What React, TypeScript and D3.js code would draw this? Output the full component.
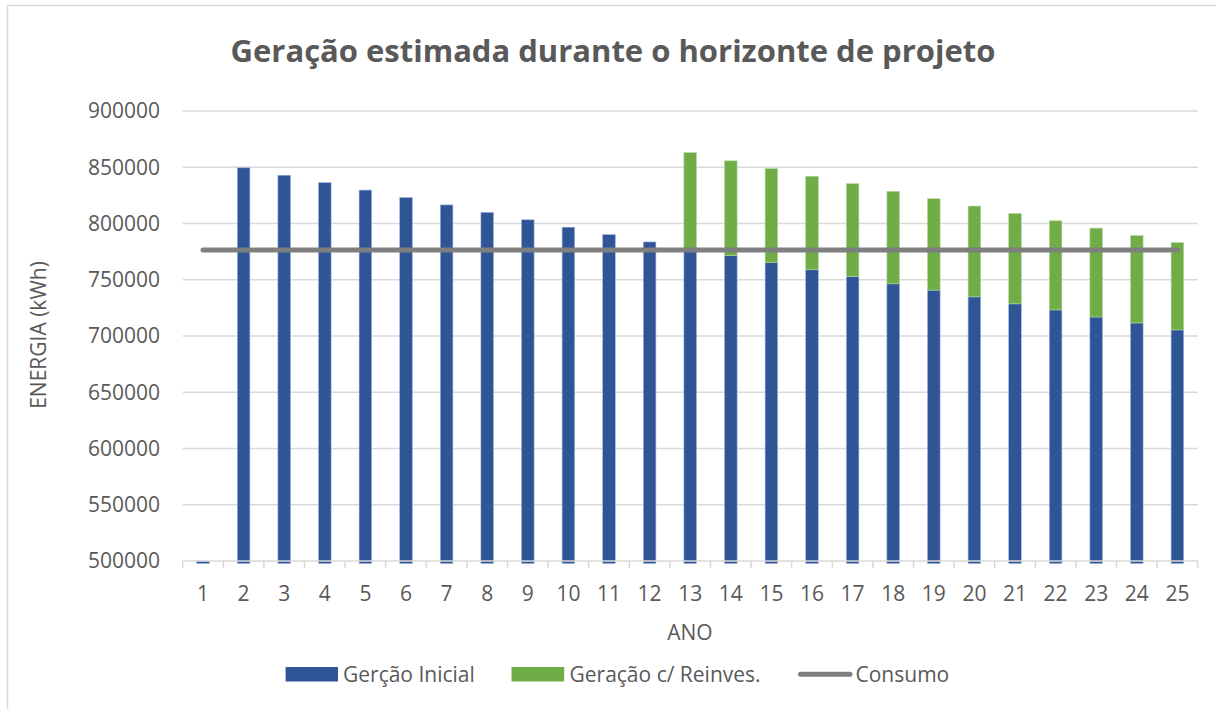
import * as d3 from "d3";

const ANOS = ["1", "2", "3", "4", "5", "6", "7", "8", "9", "10", "11", "12", "13", "14", "15", "16", "17", "18", "19", "20", "21", "22", "23", "24", "25"];

// geração inicial (kWh)
const GERACAO_INICIAL = [0, 849500, 842900, 836300, 829700, 823100, 816500, 809900, 803300, 796700, 790100, 783600, 777300, 771500, 765200, 758900, 752700, 746400, 740800, 734800, 728600, 723200, 716900, 711600, 705400];

// acréscimo com reinvestimento (empilhado sobre a geração inicial)
const GERACAO_REINV = [0, 0, 0, 0, 0, 0, 0, 0, 0, 0, 0, 0, 85700, 84200, 83600, 83100, 82700, 82200, 81200, 80700, 80300, 79200, 79000, 77700, 77600];

const CONSUMO = [776500, 776500, 776500, 776500, 776500, 776500, 776500, 776500, 776500, 776500, 776500, 776500, 776500, 776500, 776500, 776500, 776500, 776500, 776500, 776500, 776500, 776500, 776500, 776500, 776500];

const Y_TICKS = [500000, 550000, 600000, 650000, 700000, 750000, 800000, 850000, 900000];

const W = 1216;
const H = 709;
const FONT = "'Open Sans', 'Noto Sans', sans-serif";
const FS = 21;
const TXT = "#595959";
const GRID = "#d9d9d9";
const AZUL = "#2f5597";
const VERDE = "#70ad47";
const CINZA = "#7f7f7f";

export default function App() {
  const x = d3.scaleBand<string>().domain(ANOS).range([182.7, 1197.7]).paddingInner(0.69).paddingOuter(0.345);
  const y = d3.scaleLinear().domain([500000, 900000]).range([561, 111]);
  const step = x.step();
  const yc = (v: number) => y(Math.max(v, 500000));
  const y0 = y(500000);

  const line = d3
    .line<number>()
    .x((_, i) => x(ANOS[i])! + x.bandwidth() / 2)
    .y((d) => y(d));

  return (
    <div style={{ position: "absolute", left: 0, top: 0 }}>
      <svg width={W} height={H} style={{ display: "block", fontFamily: FONT }}>
        <rect x={0} y={0} width={W} height={H} fill="#fff" />
        {/* borda do gráfico */}
        <path d={`M7.5,${H} V5.5 H${W}`} fill="none" stroke={GRID} strokeWidth={1.5} />

        <text x={613} y={62} textAnchor="middle" fontSize={31} fontWeight={700} fill={TXT}>
          Geração estimada durante o horizonte de projeto
        </text>

        {/* grade e rótulos do eixo y */}
        {Y_TICKS.map((t) => (
          <g key={t}>
            {t > 500000 && <line x1={182.7} x2={1197.7} y1={y(t)} y2={y(t)} stroke={GRID} strokeWidth={1.5} />}
            <text x={160} y={y(t)} dy="0.35em" textAnchor="end" fontSize={FS} fill={TXT}>
              {t}
            </text>
          </g>
        ))}

        {/* marcas do eixo x */}
        {d3.range(ANOS.length + 1).map((i) => {
          const xx = 182.7 + i * step;
          return <line key={i} x1={xx} x2={xx} y1={y0} y2={568} stroke={GRID} strokeWidth={1.5} />;
        })}

        {/* barras */}
        {ANOS.map((a, i) => {
          const base = GERACAO_INICIAL[i];
          const top = base + GERACAO_REINV[i];
          const yb = yc(base);
          const hb = Math.max(y0 - yb, 0);
          return (
            <g key={a}>
              <rect x={x(a)} y={y0 - hb} width={x.bandwidth()} height={hb + 2.5} fill={AZUL} stroke="#9db3dc" strokeWidth={0.6} />
              {GERACAO_REINV[i] > 0 && (
                <rect x={x(a)} y={yc(top)} width={x.bandwidth()} height={yb - yc(top)} fill={VERDE} stroke="#b4d69e" strokeWidth={0.6} />
              )}
            </g>
          );
        })}

        {/* eixo x (linha base por cima das barras) */}
        <line x1={182.7} x2={1197.7} y1={y0} y2={y0} stroke={GRID} strokeWidth={1.5} />

        {/* linha de consumo */}
        <path d={line(CONSUMO) ?? ""} fill="none" stroke={CINZA} strokeWidth={5} strokeLinecap="round" />

        {/* rótulos do eixo x */}
        {ANOS.map((a) => (
          <text key={a} x={x(a)! + x.bandwidth() / 2} y={600.5} textAnchor="middle" fontSize={FS} fill={TXT}>
            {a}
          </text>
        ))}

        <text x={690} y={639.5} textAnchor="middle" fontSize={FS} fill={TXT}>
          ANO
        </text>
        <text transform="translate(46,335) rotate(-90)" textAnchor="middle" fontSize={FS} fill={TXT}>
          ENERGIA (kWh)
        </text>

        {/* legenda */}
        <rect x={285.6} y={667} width={52.4} height={14.5} fill={AZUL} />
        <text x={343} y={681.5} fontSize={FS} fill={TXT}>
          Gerção Inicial
        </text>
        <rect x={511.5} y={667} width={52.7} height={14.5} fill={VERDE} />
        <text x={569.5} y={681.5} fontSize={FS} fill={TXT}>
          Geração c/ Reinves.
        </text>
        <line x1={800.5} x2={850} y1={674.3} y2={674.3} stroke={CINZA} strokeWidth={5} strokeLinecap="round" />
        <text x={855.5} y={681.5} fontSize={FS} fill={TXT}>
          Consumo
        </text>
      </svg>
    </div>
  );
}
